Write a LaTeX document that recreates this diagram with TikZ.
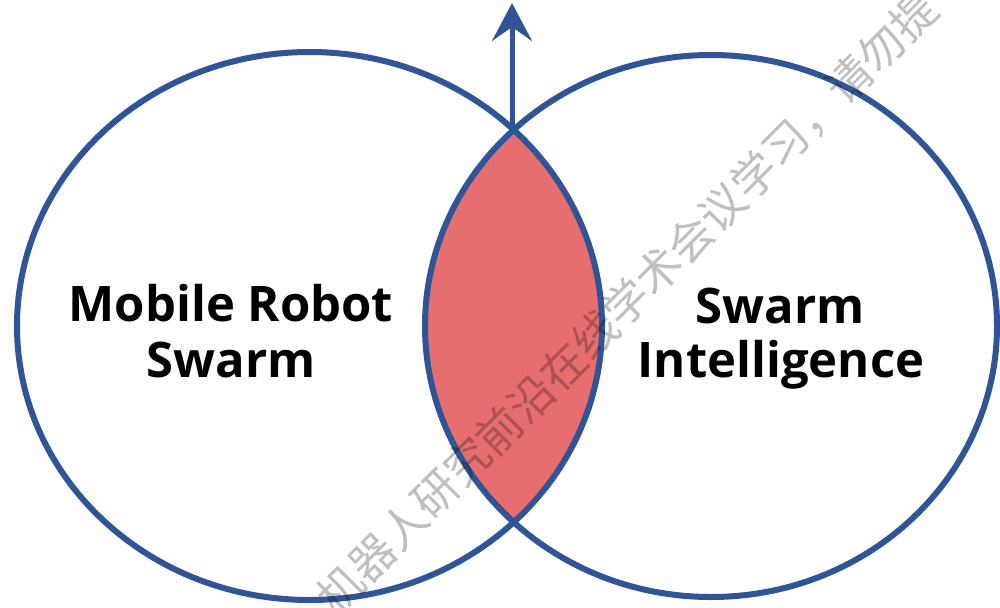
\documentclass[tikz,border=0pt]{standalone}
\usepackage{fontspec}
\newfontfamily\lblfont{Open Sans}
\newfontfamily\cjkfont{Noto Sans CJK SC}
\usetikzlibrary{arrows.meta}
\definecolor{vblue}{HTML}{2F5597}
\definecolor{vred}{HTML}{E76E6E}
\tikzset{
  ring/.style={draw=vblue, line width=6pt},
  lbl/.style={font=\lblfont\bfseries\fontsize{49pt}{56pt}\selectfont, anchor=base, inner sep=0pt},
  wmark/.style={font=\cjkfont\fontsize{45pt}{47pt}\selectfont, text=black, text opacity=0.25, rotate=45, inner sep=0pt}
}
\begin{document}
\begin{tikzpicture}[x=1pt, y=-1pt]
\clip (0,0) rectangle (1000,607);
\fill[white] (0,0) rectangle (1000,607);
\coordinate (cl) at (309.5,326);
\coordinate (cr) at (711,326);
\begin{scope}
  \clip (cl) ellipse [x radius=292.5pt, y radius=274pt];
  \fill[vred] (cr) ellipse [x radius=286pt, y radius=271pt];
\end{scope}
\draw[ring] (cl) ellipse [x radius=292.5pt, y radius=274pt];
\draw[ring] (cr) ellipse [x radius=286pt, y radius=271pt];
\coordinate (top) at (512,130);
\coordinate (tip) at (512,3);
\draw[vblue, line width=5pt, -{Stealth[length=38pt, width=40pt, inset=14pt]}] (top) -- (tip);
\node[lbl] (l1) at (231,321) {Mobile Robot};
\node[lbl] (l2) at (231,377) {Swarm};
\node[lbl] (r1) at (780,323) {Swarm};
\node[lbl] (r2) at (781,377) {Intelligence};
\node[wmark] (wm) at (627,303) {机器人研究前沿在线学术会议学习，请勿提};
\end{tikzpicture}
\end{document}
